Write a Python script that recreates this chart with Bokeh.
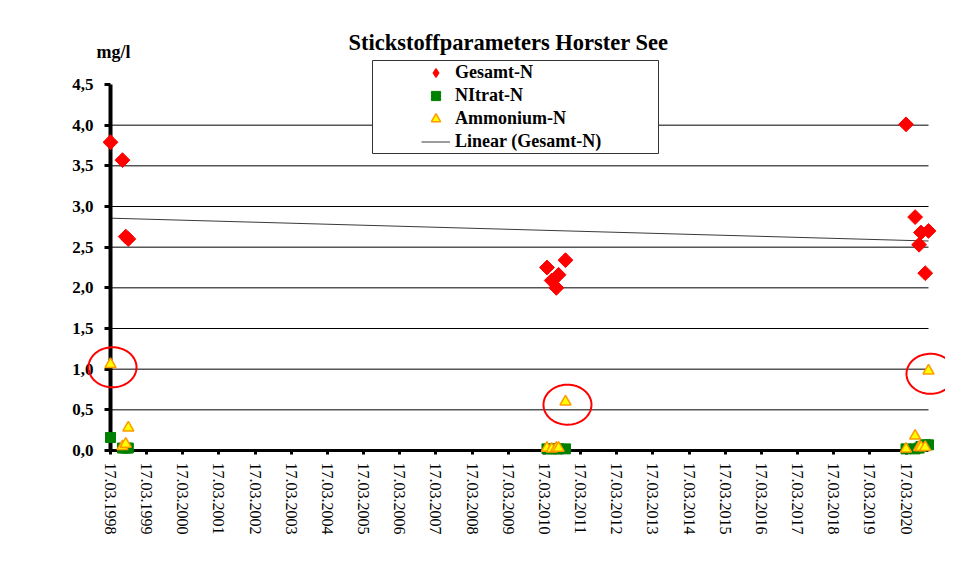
import numpy as np
import pandas as pd
from bokeh.plotting import figure
from bokeh.models import (FixedTicker, Legend, LegendItem, Label, BoxAnnotation,
                          PolyAnnotation, Range1d, DatetimeTickFormatter, DatetimeAxis)
from bokeh.embed import file_html
from bokeh.resources import INLINE

# ---------------- data ----------------
dates = ["1998-03-17", "1998-07-16", "1998-08-18", "1998-09-13",
         "2010-04-12", "2010-05-30", "2010-07-16", "2010-08-07", "2010-10-16",
         "2020-03-17", "2020-06-17", "2020-07-27", "2020-08-15", "2020-09-27", "2020-10-30"]
gesamt_n = [3.79, 3.57, 2.63, 2.60,
            2.25, 2.09, 2.00, 2.16, 2.34,
            4.01, 2.87, 2.53, 2.68, 2.18, 2.70]
nitrat_n = [0.16, 0.03, 0.03, 0.03,
            0.02, 0.02, 0.02, 0.02, 0.02,
            0.02, 0.02, 0.03, 0.05, 0.07, 0.07]
ammonium_n = [1.06, 0.05, 0.08, 0.28,
              0.03, 0.02, 0.03, 0.03, 0.60,
              0.02, 0.18, 0.04, 0.04, 0.04, 0.98]
circled = [0, 8, 14]   # ammonium values marked with red circles

tick_years = list(range(1998, 2021))
tick_dates = [f"{y}-03-17" for y in tick_years]
tick_labels = [f"17.03.{y}" for y in tick_years]
y_ticks = [0.0, 0.5, 1.0, 1.5, 2.0, 2.5, 3.0, 3.5, 4.0, 4.5]
y_tick_labels = ["0,0", "0,5", "1,0", "1,5", "2,0", "2,5", "3,0", "3,5", "4,0", "4,5"]
grid_values = [0.5, 1.0, 1.5, 2.0, 2.5, 3.0, 3.5, 4.0]
x_start = "1998-03-17"
x_end = "2020-10-30"
y_max = 4.5

# ---------------- geometry ----------------
W, H = 945, 551
FRAME_L, FRAME_R, FRAME_T, FRAME_B = 60, 945, 25, 462   # drawing frame (canvas px)
AX_L, AX_R, AX_T, AX_B = 110, 928, 84, 450              # visible axes box
SERIF = "Liberation Serif"


def to_ms(ts):
    return float((pd.Timestamp(ts) - pd.Timestamp("1970-01-01")) / pd.Timedelta(milliseconds=1))


x = pd.to_datetime(dates)
xs_ms = [to_ms(d) for d in dates]
x0, x1 = pd.Timestamp(x_start), pd.Timestamp(x_end)
x0_ms, x1_ms = to_ms(x_start), to_ms(x_end)

px_per_ms = (AX_R - AX_L) / (x1_ms - x0_ms)
px_per_unit = (AX_B - AX_T) / y_max
range_start = x0_ms - (AX_L - FRAME_L) / px_per_ms
range_end = x1_ms + (FRAME_R - AX_R) / px_per_ms
range_top = (AX_B - FRAME_T) / px_per_unit
range_bottom = -(FRAME_B - AX_B) / px_per_unit

p = figure(width=W, height=H, x_axis_type="datetime", output_backend="svg",
           toolbar_location=None, x_range=Range1d(range_start, range_end),
           y_range=Range1d(range_bottom, range_top))
p.min_border_left = FRAME_L
p.min_border_right = W - FRAME_R
p.min_border_top = FRAME_T
p.min_border_bottom = H - FRAME_B
p.outline_line_color = None
p.background_fill_color = "white"
p.border_fill_color = "white"
p.grid.visible = False

# y axis (fixed at the first date)
p.yaxis.fixed_location = x0_ms
p.yaxis.bounds = (0, y_max)
p.yaxis.ticker = FixedTicker(ticks=y_ticks)
p.yaxis.major_label_overrides = {t: l for t, l in zip(y_ticks, y_tick_labels)}
p.yaxis.axis_line_width = 4
p.yaxis.axis_line_color = "black"
p.yaxis.major_tick_line_width = 3
p.yaxis.major_tick_out = 6
p.yaxis.major_tick_in = 0
p.yaxis.minor_tick_line_color = None
p.yaxis.major_label_standoff = 11
p.yaxis.major_label_text_font = SERIF
p.yaxis.major_label_text_font_style = "bold"
p.yaxis.major_label_text_font_size = "17px"
p.yaxis.major_label_text_color = "black"

# x axis labels (at the bottom edge of the frame)
tick_ms = [to_ms(d) for d in tick_dates]
fmt = "%d.%m.%Y"
p.xaxis.ticker = FixedTicker(ticks=tick_ms)
p.xaxis.formatter = DatetimeTickFormatter(milliseconds=fmt, seconds=fmt, minsec=fmt, minutes=fmt,
                                          hourmin=fmt, hours=fmt, days=fmt, months=fmt, years=fmt)
p.xaxis.major_label_overrides = {t: l for t, l in zip(tick_ms, tick_labels)}
p.xaxis.major_label_orientation = "vertical"
p.xaxis.axis_line_color = None
p.xaxis.major_tick_line_color = None
p.xaxis.minor_tick_line_color = None
p.xaxis.major_tick_out = 0
p.xaxis.major_tick_in = 0
p.xaxis.major_label_standoff = 0
p.xaxis.major_label_text_font = SERIF
p.xaxis.major_label_text_font_size = "16px"
p.xaxis.major_label_text_color = "black"

# x axis line and ticks at y = 0
x_line = DatetimeAxis(fixed_location=0, bounds=(x0_ms, x1_ms),
                      ticker=FixedTicker(ticks=tick_ms),
                      major_label_overrides={t: "" for t in tick_ms},
                      major_label_text_font_size="0px",
                      axis_line_width=3, axis_line_color="black",
                      major_tick_line_width=3, major_tick_line_color="black",
                      major_tick_out=4, major_tick_in=0,
                      minor_tick_line_color=None, major_label_standoff=0)
p.add_layout(x_line, "below")

# horizontal gridlines, only across the axes box
p.segment(x0=[x0] * len(grid_values), x1=[x1] * len(grid_values),
          y0=grid_values, y1=grid_values, line_color="black", line_width=1)

# trend line (linear fit of Gesamt-N over time)
t_days = (x - x0).days.values.astype(float)
slope, intercept = np.polyfit(t_days, np.array(gesamt_n), 1)
tr_x = [x0, x1]
tr_y = [intercept, intercept + slope * (x1 - x0).days]

r_trend = p.line(tr_x, tr_y, line_color="#3a3a3a", line_width=1)
# diamond glyph (hidden under the rotated squares) provides the legend symbol
r_g_leg = p.scatter(x, gesamt_n, marker="diamond", size=7,
                    fill_color="#ff0000", line_color="#ff0000", level="overlay")
p.scatter(x, gesamt_n, marker="square", angle=np.pi / 4, size=10.5,
          fill_color="#ff0000", line_color="#ff0000", level="overlay")
r_n = p.scatter(x, nitrat_n, marker="square", size=10,
                fill_color="#008000", line_color="#008000", level="overlay")
r_a = p.scatter(x, ammonium_n, marker="triangle", size=11,
                fill_color="#ffff00", line_color="#ff9900", line_width=1.5, level="overlay")

# red circles around the marked ammonium values
rx_px, ry_px = 24, 20
dx_px, dy_px = 2, -3
theta = np.linspace(0, 2 * np.pi, 90)
for i in circled:
    cx = xs_ms[i] + dx_px / px_per_ms
    cy = ammonium_n[i] + dy_px / px_per_unit
    ex = list(cx + rx_px / px_per_ms * np.cos(theta))
    ey = list(cy + ry_px / px_per_unit * np.sin(theta))
    p.add_layout(PolyAnnotation(xs=ex, ys=ey, fill_alpha=0, line_color="#ff0000",
                                line_alpha=1, line_width=2))

# legend box + legend
box = BoxAnnotation(left=372 - FRAME_L, right=658 - FRAME_L,
                    top=FRAME_B - 60, bottom=FRAME_B - 153,
                    left_units="screen", right_units="screen",
                    top_units="screen", bottom_units="screen",
                    fill_color="white", fill_alpha=1,
                    line_color="#333333", line_width=1, line_alpha=1)
p.add_layout(box)

legend = Legend(items=[LegendItem(label="Gesamt-N", renderers=[r_g_leg]),
                       LegendItem(label="NItrat-N", renderers=[r_n]),
                       LegendItem(label="Ammonium-N", renderers=[r_a]),
                       LegendItem(label="Linear (Gesamt-N)", renderers=[r_trend])],
                location=(421 - FRAME_L, FRAME_B - 153))
legend.padding = 0
legend.margin = 0
legend.spacing = 0
legend.glyph_height = 23
legend.glyph_width = 29
legend.label_height = 20
legend.label_standoff = 5
legend.background_fill_alpha = 0
legend.border_line_color = None
legend.label_text_font = SERIF
legend.label_text_font_style = "bold"
legend.label_text_font_size = "18px"
legend.label_text_color = "black"
p.add_layout(legend, "center")

# title and unit label
p.add_layout(Label(x=508 - FRAME_L, y=FRAME_B - 42, x_units="screen", y_units="screen",
                   text="Stickstoffparameters Horster See", text_align="center",
                   text_baseline="middle", text_font=SERIF, text_font_style="bold",
                   text_font_size="22.5px", text_color="black"))
p.add_layout(Label(x=113 - FRAME_L, y=FRAME_B - 51, x_units="screen", y_units="screen",
                   text="mg/l", text_align="center", text_baseline="middle",
                   text_font=SERIF, text_font_style="bold",
                   text_font_size="18px", text_color="black"))

open("out.html", "w").write(file_html(p, INLINE))
